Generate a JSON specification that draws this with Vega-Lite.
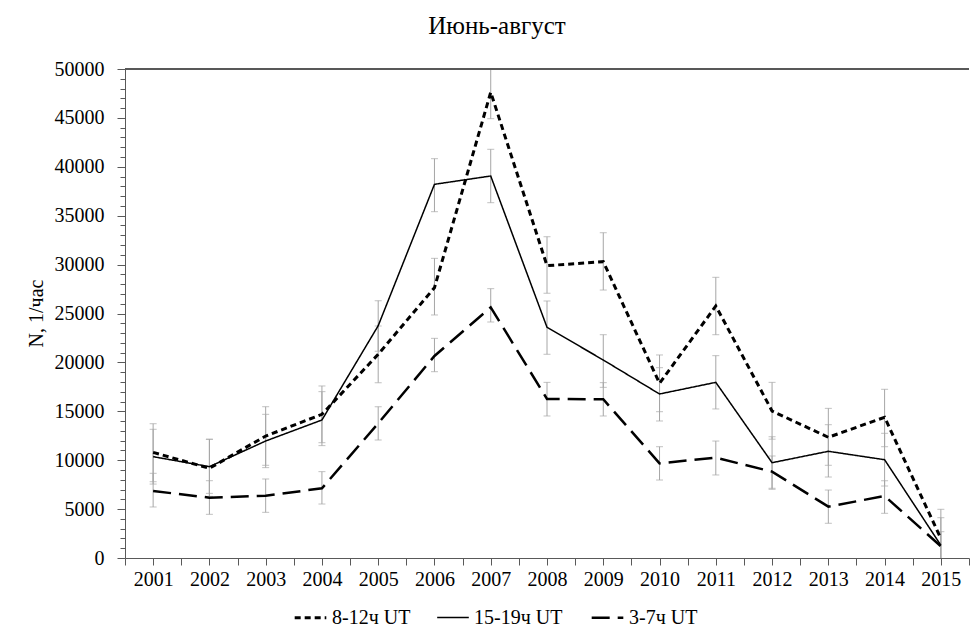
{
  "$schema": "https://vega.github.io/schema/vega-lite/v6.json",
  "width": 844,
  "height": 489,
  "autosize": "none",
  "padding": {"left": 125, "top": 69, "right": 1, "bottom": 78},
  "background": "white",
  "title": {"text": "Июнь-август", "font": "Liberation Serif", "fontSize": 25, "fontWeight": "normal", "color": "black", "anchor": "middle", "dx": -50, "offset": 20},
  "config": {"view": {"stroke": null}, "font": "Liberation Serif", "axis": {"labelFont": "Liberation Serif", "titleFont": "Liberation Serif"}},
  "data": {"values": [
    {"year": 2001, "s": "8-12ч UT", "v": 10800, "lo": 7800, "hi": 13730},
    {"year": 2002, "s": "8-12ч UT", "v": 9170, "lo": 6300, "hi": 12140},
    {"year": 2003, "s": "8-12ч UT", "v": 12470, "lo": 9480, "hi": 15470},
    {"year": 2004, "s": "8-12ч UT", "v": 14690, "lo": 11790, "hi": 17590},
    {"year": 2005, "s": "8-12ч UT", "v": 20830, "lo": 17930, "hi": 23730},
    {"year": 2006, "s": "8-12ч UT", "v": 27640, "lo": 24850, "hi": 30640},
    {"year": 2007, "s": "8-12ч UT", "v": 47620, "lo": 44920, "hi": 50300},
    {"year": 2008, "s": "8-12ч UT", "v": 29890, "lo": 27070, "hi": 32850},
    {"year": 2009, "s": "8-12ч UT", "v": 30300, "lo": 27400, "hi": 33260},
    {"year": 2010, "s": "8-12ч UT", "v": 17860, "lo": 14960, "hi": 20760},
    {"year": 2011, "s": "8-12ч UT", "v": 25770, "lo": 22830, "hi": 28700},
    {"year": 2012, "s": "8-12ч UT", "v": 15030, "lo": 12150, "hi": 17960},
    {"year": 2013, "s": "8-12ч UT", "v": 12340, "lo": 9480, "hi": 15300},
    {"year": 2014, "s": "8-12ч UT", "v": 14390, "lo": 11380, "hi": 17250},
    {"year": 2015, "s": "8-12ч UT", "v": 2000, "lo": -900, "hi": 4980},
    {"year": 2001, "s": "15-19ч UT", "v": 10360, "lo": 7560, "hi": 13160},
    {"year": 2002, "s": "15-19ч UT", "v": 9340, "lo": 6610, "hi": 12140},
    {"year": 2003, "s": "15-19ч UT", "v": 11960, "lo": 9240, "hi": 14690},
    {"year": 2004, "s": "15-19ч UT", "v": 14110, "lo": 11490, "hi": 17010},
    {"year": 2005, "s": "15-19ч UT", "v": 23750, "lo": 21150, "hi": 26310},
    {"year": 2006, "s": "15-19ч UT", "v": 38210, "lo": 35410, "hi": 40830},
    {"year": 2007, "s": "15-19ч UT", "v": 39060, "lo": 36330, "hi": 41790},
    {"year": 2008, "s": "15-19ч UT", "v": 23590, "lo": 20830, "hi": 26280},
    {"year": 2009, "s": "15-19ч UT", "v": 20245, "lo": 17450, "hi": 22830},
    {"year": 2010, "s": "15-19ч UT", "v": 16770, "lo": 14010, "hi": 19460},
    {"year": 2011, "s": "15-19ч UT", "v": 17960, "lo": 15240, "hi": 20690},
    {"year": 2012, "s": "15-19ч UT", "v": 9745, "lo": 7025, "hi": 12400},
    {"year": 2013, "s": "15-19ч UT", "v": 10910, "lo": 8280, "hi": 13630},
    {"year": 2014, "s": "15-19ч UT", "v": 10050, "lo": 7360, "hi": 12750},
    {"year": 2015, "s": "15-19ч UT", "v": 1300, "lo": -1400, "hi": 4120},
    {"year": 2001, "s": "3-7ч UT", "v": 6850, "lo": 5215, "hi": 8660},
    {"year": 2002, "s": "3-7ч UT", "v": 6170, "lo": 4466, "hi": 7905},
    {"year": 2003, "s": "3-7ч UT", "v": 6370, "lo": 4670, "hi": 8080},
    {"year": 2004, "s": "3-7ч UT", "v": 7125, "lo": 5520, "hi": 8830},
    {"year": 2005, "s": "3-7ч UT", "v": 13770, "lo": 12065, "hi": 15470},
    {"year": 2006, "s": "3-7ч UT", "v": 20655, "lo": 19050, "hi": 22460},
    {"year": 2007, "s": "3-7ч UT", "v": 25630, "lo": 24130, "hi": 27540},
    {"year": 2008, "s": "3-7ч UT", "v": 16260, "lo": 14520, "hi": 17960},
    {"year": 2009, "s": "3-7ч UT", "v": 16230, "lo": 14520, "hi": 17930},
    {"year": 2010, "s": "3-7ч UT", "v": 9680, "lo": 7975, "hi": 11380},
    {"year": 2011, "s": "3-7ч UT", "v": 10260, "lo": 8490, "hi": 11960},
    {"year": 2012, "s": "3-7ч UT", "v": 8830, "lo": 7130, "hi": 10430},
    {"year": 2013, "s": "3-7ч UT", "v": 5250, "lo": 3550, "hi": 6950},
    {"year": 2014, "s": "3-7ч UT", "v": 6340, "lo": 4570, "hi": 7900},
    {"year": 2015, "s": "3-7ч UT", "v": 1200, "lo": -500, "hi": 2690}
  ]},
  "layer": [
    {
      "mark": {"type": "rule", "clip": true, "color": "#a6a6a6", "strokeWidth": 1},
      "encoding": {
        "x": {"field": "year", "type": "quantitative",
          "scale": {"domain": [2000.5, 2015.5], "nice": false, "zero": false},
          "axis": {
            "values": [2000.5, 2001, 2001.5, 2002, 2002.5, 2003, 2003.5, 2004, 2004.5, 2005, 2005.5, 2006, 2006.5, 2007, 2007.5, 2008, 2008.5, 2009, 2009.5, 2010, 2010.5, 2011, 2011.5, 2012, 2012.5, 2013, 2013.5, 2014, 2014.5, 2015, 2015.5],
            "tickCount": 200, "tickMinStep": 0.5,
            "labelExpr": "datum.value % 1 === 0 ? '' + datum.value : ''",
            "labelOverlap": false, "labelFlush": false,
            "labelFontSize": 20, "labelFont": "Liberation Serif", "labelColor": "black",
            "domainColor": "#595959", "tickColor": "#595959", "tickSize": 7, "labelPadding": 4,
            "grid": false, "title": null
          }},
        "y": {"field": "lo", "type": "quantitative",
          "scale": {"domain": [0, 50000], "nice": false},
          "axis": {
            "values": [0,1000,2000,3000,4000,5000,6000,7000,8000,9000,10000,11000,12000,13000,14000,15000,16000,17000,18000,19000,20000,21000,22000,23000,24000,25000,26000,27000,28000,29000,30000,31000,32000,33000,34000,35000,36000,37000,38000,39000,40000,41000,42000,43000,44000,45000,46000,47000,48000,49000,50000],
            "tickCount": 200,
            "labelExpr": "datum.value % 5000 === 0 ? '' + datum.value : ''",
            "labelOverlap": false, "labelFlush": false,
            "labelFontSize": 20, "labelFont": "Liberation Serif", "labelColor": "black",
            "domainColor": "#595959", "tickColor": "#595959",
            "tickSize": {"condition": {"test": "datum.value % 5000 === 0", "value": 8}, "value": 5},
            "labelPadding": 13, "grid": false,
            "title": "N, 1/час", "titleFont": "Liberation Serif", "titleFontSize": 20, "titleFontWeight": "normal", "titleColor": "black",
            "titleX": -89, "titleY": 244, "titleBaseline": "middle", "titleAlign": "center", "titleAngle": -90
          }},
        "y2": {"field": "hi"}
      }
    },
    {
      "mark": {"type": "tick", "clip": true, "orient": "horizontal", "color": "#a6a6a6", "size": 7, "thickness": 1},
      "encoding": {
        "x": {"field": "year", "type": "quantitative"},
        "y": {"field": "lo", "type": "quantitative"}
      }
    },
    {
      "mark": {"type": "tick", "clip": true, "orient": "horizontal", "color": "#a6a6a6", "size": 7, "thickness": 1},
      "encoding": {
        "x": {"field": "year", "type": "quantitative"},
        "y": {"field": "hi", "type": "quantitative"}
      }
    },
    {
      "mark": {"type": "line", "clip": true, "color": "black", "strokeCap": "butt"},
      "encoding": {
        "x": {"field": "year", "type": "quantitative"},
        "y": {"field": "v", "type": "quantitative"},
        "strokeDash": {"field": "s", "type": "nominal",
          "scale": {"domain": ["8-12ч UT", "15-19ч UT", "3-7ч UT"], "range": [[6, 4], [1, 0], [18, 8]]},
          "legend": {"orient": "none", "legendX": 168, "legendY": 531, "direction": "horizontal", "title": null,
            "symbolType": "stroke", "symbolSize": 1000, "symbolStrokeColor": "black",
            "labelFontSize": 20, "labelFont": "Liberation Serif", "labelColor": "black",
            "columnPadding": 23, "labelOffset": 4}},
        "strokeWidth": {"field": "s", "type": "nominal",
          "scale": {"type": "ordinal", "domain": ["8-12ч UT", "15-19ч UT", "3-7ч UT"], "range": [3, 1.5, 2.5]},
          "legend": {"orient": "none", "legendX": 168, "legendY": 531, "direction": "horizontal", "title": null,
            "symbolType": "stroke", "symbolSize": 1000, "symbolStrokeColor": "black",
            "labelFontSize": 20, "labelFont": "Liberation Serif", "labelColor": "black",
            "columnPadding": 23, "labelOffset": 4}}
      }
    },
    {
      "mark": {"type": "rule", "color": "#595959", "strokeWidth": 1},
      "encoding": {"y": {"datum": 50000}}
    }
  ]
}
